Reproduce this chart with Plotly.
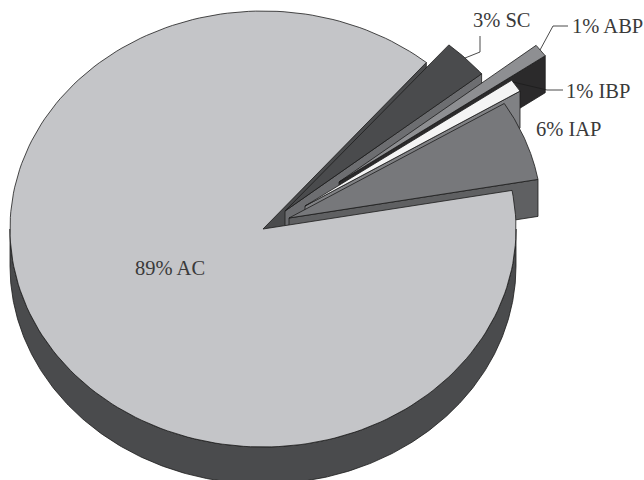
import numpy as np
import plotly.graph_objects as go

# Shares of the whole, listed clockwise from the first cut
categories = ["SC", "ABP", "IBP", "IAP", "AC"]
shares = [3, 1, 1, 6, 89]

# Tilted-disc projection
CX, CY = 263, 229
RX, RY = 253, 218
DEPTH = 37
START_DEG = 49.8

# How far each slice is pulled out of the disc, in pixels
pull = {"SC": (22, -18), "ABP": (76, -47), "IBP": (42, -23), "IAP": (26, -11), "AC": (0, 0)}
top_color = {"SC": "#4a4b4d", "ABP": "#8e8f92", "IBP": "#f4f4f4", "IAP": "#77787b", "AC": "#c4c5c8"}
wall_color = {"SC": "#6d6e71", "ABP": "#2b2a2b", "IBP": "#808184", "IAP": "#5f6062", "AC": "#4a4b4d"}
EDGE = "#1c1c1c"

fig = go.Figure()


def point(angle, key, drop=0):
    a = np.radians(angle)
    dx, dy = pull[key]
    return CX + dx + RX * np.cos(a), CY + dy - RY * np.sin(a) + drop


def polygon(xs, ys, color):
    fig.add_trace(go.Scatter(
        x=list(xs) + [xs[0]], y=list(ys) + [ys[0]], mode="lines", fill="toself",
        fillcolor=color, line=dict(color=EDGE, width=0.8), hoverinfo="skip", showlegend=False,
    ))


def top_face(key, a0, a1):
    sweep = np.linspace(a0, a1, 200)
    px, py = point(sweep, key)
    dx, dy = pull[key]
    polygon([CX + dx, *px], [CY + dy, *py], top_color[key])


def cut_wall(key, angle):
    # Flat face along a radial cut, extruded downward
    dx, dy = pull[key]
    ox, oy = point(angle, key)
    polygon([CX + dx, ox, ox, CX + dx], [CY + dy, oy, oy + DEPTH, CY + dy + DEPTH], wall_color[key])


def rim(key, a0, a1):
    sweep = np.linspace(a0, a1, 300)
    tx, ty = point(sweep, key)
    bx, by = point(sweep[::-1], key, DEPTH)
    polygon([*tx, *bx], [*ty, *by], wall_color[key])


# Cumulative cut angles, clockwise
bounds = {}
angle = START_DEG
for name, share in zip(categories, shares):
    bounds[name] = (angle, angle - share * 3.6)
    angle -= share * 3.6

# The large slice's exposed cut sits behind everything
cut_wall("AC", bounds["AC"][1] + 360)

for name in categories[:-1]:
    a0, a1 = bounds[name]
    cut_wall(name, a1)
    top_face(name, a0, a1)

rim("AC", -180, 0)
top_face("AC", bounds["AC"][0], bounds["AC"][1])

# Leader lines
leaders = [
    ([465, 480, 480], [58, 52, 36]),
    ([540, 553, 568], [50, 26, 26]),
    ([513, 547, 563], [82, 90, 90]),
]
for lx, ly in leaders:
    fig.add_trace(go.Scatter(x=lx, y=ly, mode="lines", line=dict(color=EDGE, width=0.8),
                             hoverinfo="skip", showlegend=False))

# Slice labels, anchored at their left end
label_pos = {"SC": (471, 20), "ABP": (570, 26), "IBP": (564, 91), "IAP": (534, 129), "AC": (133, 268)}
for name, share in zip(categories, shares):
    x, y = label_pos[name]
    fig.add_annotation(x=x, y=y, text=f"{share}% {name}", showarrow=False, xanchor="left", yanchor="middle",
                       font=dict(family="Liberation Serif", size=20.5, color="#3a3a3a"))

fig.update_layout(
    width=644, height=480, margin=dict(l=0, r=0, t=0, b=0),
    paper_bgcolor="white", plot_bgcolor="white",
    xaxis=dict(range=[0, 644], visible=False, fixedrange=True),
    yaxis=dict(range=[480, 0], visible=False, fixedrange=True),
)
fig.write_html("out.html", config={"displayModeBar": False})
